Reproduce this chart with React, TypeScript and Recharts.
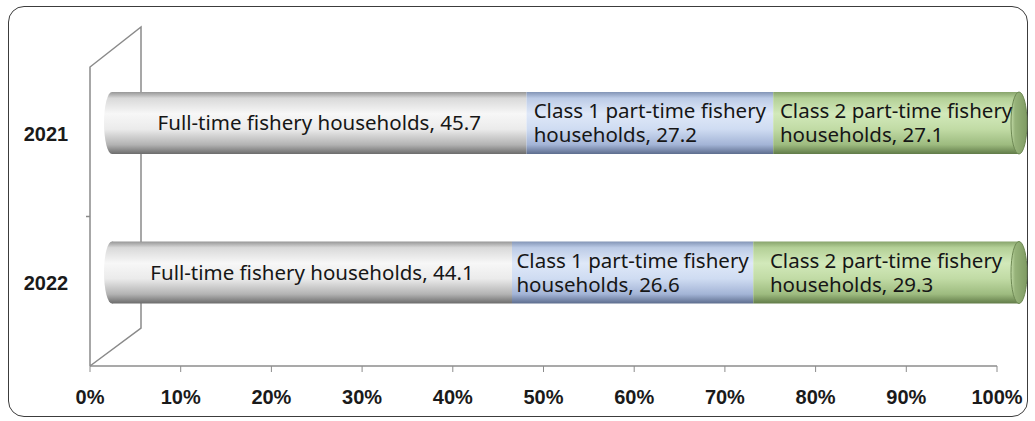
import React from 'react';
import { BarChart, Bar, XAxis, YAxis, ReferenceArea, LabelList } from 'recharts';

const years = ['2021', '2022'];
const fullTime = [45.7, 44.1];
const class1 = [27.2, 26.6];
const class2 = [27.1, 29.3];
const xTicks = [0, 10, 20, 30, 40, 50, 60, 70, 80, 90, 100];
const seriesKeys = ['full', 'c1', 'c2'];
const seriesLines = [
  ['Full-time fishery households'],
  ['Class 1 part-time fishery', 'households'],
  ['Class 2 part-time fishery', 'households'],
];

const data = years.map((y, i) => ({ year: y, full: fullTime[i], c1: class1[i], c2: class2[i] }));

const DX = 22;
const DY = -19;
const LABEL_FONT = '"Noto Sans", sans-serif';
const LABEL_SIZE = 20.5;
const AXIS_FONT = '"Liberation Sans", Arial, sans-serif';

let ctx: CanvasRenderingContext2D | null = null;
function measure(t: string) {
  if (!ctx) ctx = document.createElement('canvas').getContext('2d');
  if (!ctx) return t.length * 10;
  ctx.font = `400 ${LABEL_SIZE}px ${LABEL_FONT}`;
  return ctx.measureText(t).width;
}

const grads = [
  { id: 'gGray', stops: ['#979797', '#d9d9d9', '#f7f7f7', '#ebebeb', '#b3b3b3', '#6c6c6c'] },
  { id: 'gBlue', stops: ['#8395b6', '#bccbe6', '#dfe8f8', '#cfdcf2', '#a3b4d6', '#5d6d8e'] },
  { id: 'gGreen', stops: ['#88a46c', '#b4d097', '#d2e9ba', '#c1dba5', '#9dbb7f', '#617b48'] },
];
const gradOffsets = [0, 0.1, 0.35, 0.6, 0.85, 1];

function makeShape(si: number) {
  return (props: any) => {
    const { x, y, width, height } = props;
    const X = x + DX;
    const Y = y + DY;
    const rx = 8;
    const fill = `url(#${grads[si].id})`;
    return (
      <g>
        {si === 0 && <ellipse cx={X} cy={Y + height / 2} rx={rx} ry={height / 2} fill={fill} />}
        <rect x={X} y={Y} width={width} height={height} fill={fill} />
        {si === 2 && (
          <ellipse cx={X + width} cy={Y + height / 2} rx={rx} ry={height / 2} fill="url(#gCap)" stroke="#6d8853" strokeWidth={1} />
        )}
      </g>
    );
  };
}

function makeLabel(si: number) {
  return (props: any) => {
    const vb = props.viewBox || {};
    const x = props.x ?? vb.x;
    const y = props.y ?? vb.y;
    const width = props.width ?? vb.width;
    const height = props.height ?? vb.height;
    const lines = seriesLines[si].slice();
    lines[lines.length - 1] = `${lines[lines.length - 1]}, ${props.value}`;
    const cx = x + width / 2 + DX;
    const cy = y + height / 2 + DY;
    const maxW = Math.max(...lines.map(measure));
    const lh = 24;
    const multi = lines.length > 1;
    const x0 = multi ? cx - maxW / 2 : cx;
    return (
      <text fontFamily={LABEL_FONT} fontSize={LABEL_SIZE} fill="#161616" textAnchor={multi ? 'start' : 'middle'}>
        {lines.map((l, k) => (
          <tspan key={k} x={x0} y={cy + (k - (lines.length - 1) / 2) * lh + LABEL_SIZE * 0.35}>
            {l}
          </tspan>
        ))}
      </text>
    );
  };
}

const Wall = (props: any) => {
  const { x, y, height } = props;
  const bx = x + 51;
  const d = `M${x},${y + height} L${x},${y} L${bx},${y - 40} L${bx},${y + height - 38} L${x},${y + height} M${x - 4},${y + height / 2} L${x},${y + height / 2}`;
  return <path d={d} fill="none" stroke="#8a8a8a" strokeWidth={1.5} />;
};

const YTick = (props: any) => {
  const { y, payload } = props;
  return (
    <text x={46} y={y - 8} textAnchor="middle" dominantBaseline="central" fontFamily={AXIS_FONT} fontWeight="bold" fontSize={20} fill="#1a1a1a">
      {payload.value}
    </text>
  );
};

export default function App() {
  return (
    <div style={{ position: 'absolute', left: 0, top: 0, width: 1035, height: 421, background: '#fff' }}>
      <div
        style={{
          position: 'absolute',
          left: 8,
          top: 6,
          width: 1020,
          height: 411,
          boxSizing: 'border-box',
          border: '1.5px solid #3c3c3c',
          borderRadius: 16,
        }}
      />
      <div style={{ position: 'absolute', left: 0, top: 0 }}>
        <BarChart
          width={1035}
          height={421}
          data={data}
          layout="vertical"
          margin={{ top: 67, right: 38, left: 0, bottom: 25 }}
          barSize={62}
        >
          <defs>
            {grads.map((g) => (
              <linearGradient key={g.id} id={g.id} x1="0" y1="0" x2="0" y2="1">
                {g.stops.map((c, i) => (
                  <stop key={i} offset={gradOffsets[i]} stopColor={c} />
                ))}
              </linearGradient>
            ))}
            <linearGradient id="gCap" x1="0" y1="0" x2="1" y2="0">
              <stop offset="0" stopColor="#c3dca8" />
              <stop offset="0.25" stopColor="#97b37a" />
              <stop offset="1" stopColor="#7f9b63" />
            </linearGradient>
          </defs>
          <ReferenceArea x1={0} x2={100} ifOverflow="visible" shape={<Wall />} />
          <XAxis
            type="number"
            domain={[0, 100]}
            ticks={xTicks}
            tickFormatter={(v: number) => `${v}%`}
            axisLine={{ stroke: '#8c8c8c', strokeWidth: 1.5 }}
            tickLine={{ stroke: '#8c8c8c' }}
            tickSize={6}
            tickMargin={18}
            height={30}
            interval={0}
            tick={{ fontFamily: AXIS_FONT, fontWeight: 'bold', fontSize: 20, fill: '#1a1a1a' }}
          />
          <YAxis type="category" dataKey="year" width={90} axisLine={false} tickLine={false} tick={<YTick />} />
          {seriesKeys.map((k, si) => (
            <Bar key={k} dataKey={k} stackId="a" isAnimationActive={false} shape={makeShape(si)}>
              <LabelList dataKey={k} content={makeLabel(si)} />
            </Bar>
          ))}
        </BarChart>
      </div>
    </div>
  );
}
